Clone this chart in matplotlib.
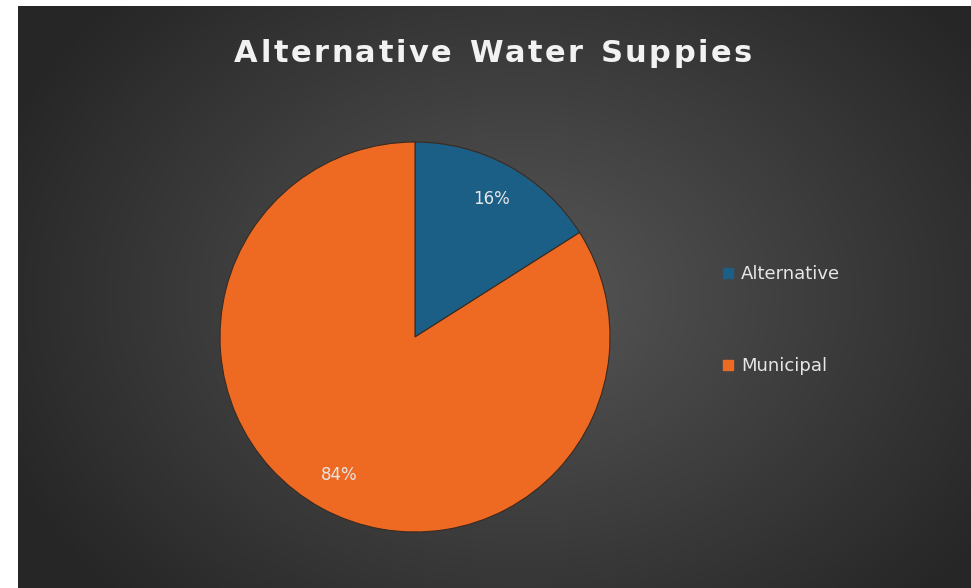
import numpy as np
import matplotlib.pyplot as plt
from matplotlib.lines import Line2D

# data
labels = ['Alternative', 'Municipal']
shares = [16, 84]
colors = ['#1b5e86', '#ee6a22']
title = 'Alternative Water Suppies'

W, H = 971, 588
fig = plt.figure(figsize=(W / 100, H / 100), dpi=100)
fig.patch.set_facecolor('white')

# dark radial-gradient background panel
bg = fig.add_axes([18 / W, 0, 1 - 18 / W, 1 - 6 / H])
bg.set_axis_off()
yy, xx = np.mgrid[0:582, 0:953]
d = np.sqrt(((xx - 500) / 560.0) ** 2 + ((yy - 290) / 430.0) ** 2)
shade = np.clip(0.34 - 0.19 * d, 0.15, 0.36)
bg.imshow(np.dstack([shade] * 3), aspect='auto', interpolation='bilinear')

# pie
cx, cy, r = 415, 337, 195
ax = fig.add_axes([(cx - r) / W, 1 - (cy + r) / H, 2 * r / W, 2 * r / H])
ax.set_axis_off()
wedges, texts, autotexts = ax.pie(
    shares, colors=colors, startangle=90, counterclock=False,
    autopct='%1.0f%%', pctdistance=0.81, radius=1,
    wedgeprops=dict(edgecolor='#3a2a20', linewidth=0.8),
    textprops=dict(color='#e6e6e6', fontsize=12))
ax.set_xlim(-1, 1)
ax.set_ylim(-1, 1)

# title with letter spacing, drawn char by char
renderer = fig.canvas.get_renderer()
tkw = dict(color='#f2f2f2', fontsize=22, fontweight='bold', family='DejaVu Sans', va='center', ha='left')
track = 2.5
widths = []
for ch in title:
    if ch == ' ':
        t = fig.text(0, 0, 'a', **tkw)
        widths.append(t.get_window_extent(renderer).width * 0.6)
    else:
        t = fig.text(0, 0, ch, **tkw)
        widths.append(t.get_window_extent(renderer).width)
    t.remove()
total = sum(widths) + track * (len(title) - 1)
x = 493 - total / 2
for ch, w in zip(title, widths):
    if ch != ' ':
        fig.text(x / W, 1 - 53 / H, ch, **tkw)
    x += w + track

# legend
handles = [Line2D([], [], marker='s', linestyle='none', markersize=7,
                  markerfacecolor=c, markeredgecolor=c) for c in colors]
leg = fig.legend(handles, labels, loc='center left', bbox_to_anchor=(705 / W, 1 - 320 / H),
                 frameon=False, fontsize=13, labelcolor='#e6e6e6',
                 handlelength=0.8, handletextpad=0.3, labelspacing=4.1)

fig.savefig('out.png', dpi=100)
